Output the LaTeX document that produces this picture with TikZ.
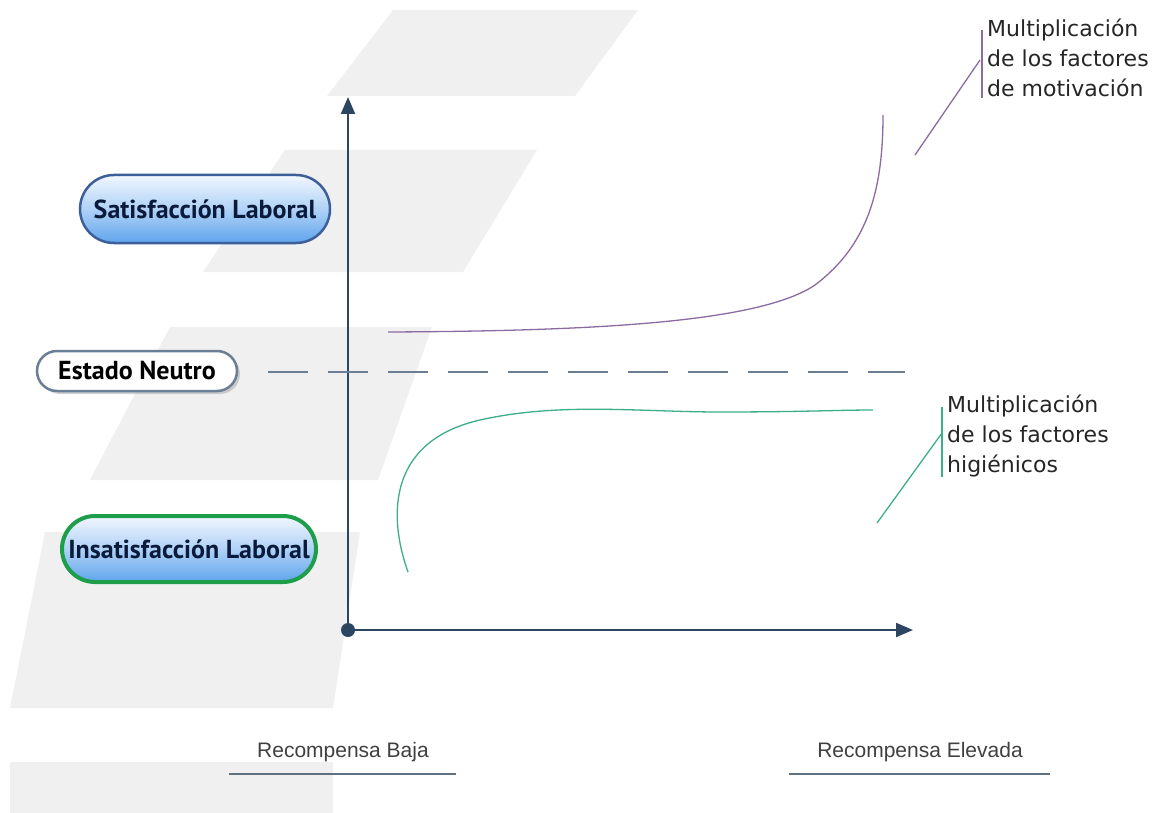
\documentclass[tikz,border=0pt]{standalone}
\usepackage{fontspec}
\setmainfont{DejaVu Sans}
\newfontfamily\pillfont{PT Sans}
\newfontfamily\labfont{DejaVu Sans}
\newfontfamily\axfont{Liberation Sans}
\usetikzlibrary{arrows.meta,shadows,shapes.misc}
\definecolor{stripe}{HTML}{F0F0F0}
\definecolor{axiscol}{HTML}{2C4662}
\definecolor{dashcol}{HTML}{6A7F95}
\definecolor{pillborder}{HTML}{3D5F99}
\definecolor{pilltop}{HTML}{F2F7FF}
\definecolor{pillbot}{HTML}{5FA4EC}
\definecolor{greenb}{HTML}{1E9E4A}
\definecolor{pilltext}{HTML}{0A1A3A}
\definecolor{purplec}{HTML}{8C6BA3}
\definecolor{greenc}{HTML}{3DAE8A}
\definecolor{ulcol}{HTML}{5F7080}
\tikzset{
  bgstripe/.style={fill=stripe, draw=none},
  pill/.style={rounded rectangle, minimum height=68pt, inner xsep=8pt, draw=pillborder, line width=2.5pt,
    top color=pilltop, bottom color=pillbot, middle color=pilltop!55!pillbot, text=pilltext,
    font=\pillfont\bfseries\fontsize{26}{30}\selectfont},
  neutral/.style={rounded rectangle, minimum height=40pt, minimum width=212pt, inner xsep=6pt, draw=dashcol, line width=2.5pt, fill=white,
    text=black, font=\pillfont\bfseries\fontsize{26}{30}\selectfont,
    drop shadow={shadow xshift=3pt, shadow yshift=-3pt, fill=black!35}},
  axisline/.style={draw=axiscol, line width=2pt},
  sidelabel/.style={anchor=north west, align=left, inner xsep=5pt, inner ysep=0pt,
    font=\labfont\fontsize{22}{30}\selectfont, text=black!85},
  botlabel/.style={font=\axfont\fontsize{21}{24}\selectfont, text=black!75},
  uline/.style={draw=ulcol, line width=2pt},
}
\begin{document}
\begin{tikzpicture}[x=1pt,y=-1pt]
\useasboundingbox (0,0) rectangle (1153,813);
\fill[white] (0,0) rectangle (1153,813);
% background stripes
\path[bgstripe] (393,10) -- (638,10) -- (575,96) -- (327,96) -- cycle;
\path[bgstripe] (285,150) -- (537,150) -- (463,272) -- (203,272) -- cycle;
\path[bgstripe] (170,327) -- (432,327) -- (378,480) -- (90,480) -- cycle;
\path[bgstripe] (45,532) -- (360,532) -- (333,708) -- (10,708) -- cycle;
\path[bgstripe] (10,762) -- (333,762) -- (333,813) -- (10,813) -- cycle;

% axes
\coordinate (origin) at (348,630);
\coordinate (ytop) at (348,97);
\coordinate (xend) at (913,630);
\draw[axisline, -{Triangle[length=17pt,width=14pt]}] (origin) -- (ytop);
\draw[axisline, -{Triangle[length=17pt,width=14pt]}] (origin) -- (xend);
\fill[axiscol] (origin) circle (7pt);

% dashed neutral line
\coordinate (dashA) at (268,372);
\coordinate (dashB) at (905,372);
\draw[dashcol, line width=1.5pt, dash pattern=on 40pt off 20pt] (dashA) -- (dashB);

% pills
\node[pill, minimum width=266pt] (sat) at (205,209) {Satisfacción Laboral};
\node[neutral] (neu) at (137,371) {Estado Neutro};
\node[pill, draw=greenb, line width=4pt, minimum width=270pt, minimum height=66pt] (insat) at (189,549) {Insatisfacción Laboral};

% curves
\coordinate (pS) at (388,332);
\coordinate (pM) at (815,285);
\coordinate (pE) at (883,115);
\draw[purplec, line width=1.3pt] (pS) .. controls (600,331) and (760,322) .. (pM) .. controls (868,245) and (883,190) .. (pE);
\coordinate (gS) at (408,572);
\coordinate (gM) at (480,420);
\coordinate (gN) at (720,412);
\coordinate (gE) at (873,410);
\draw[greenc, line width=1.3pt] (gS) .. controls (386,510) and (392,440) .. (gM) .. controls (560,402) and (640,412) .. (gN) .. controls (800,412) and (840,410) .. (gE);

% side labels
\node[sidelabel] (motiv) at (982,19) {Multiplicación\\de los factores\\de motivación};
\draw[purplec, line width=1.3pt] ([yshift=-11pt]motiv.north west) -- ([yshift=-1pt]motiv.south west);
\coordinate (motivLead) at (915,155);
\draw[purplec, line width=1.3pt] (motivLead) -- (980,60);

\node[sidelabel] (hig) at (942,395) {Multiplicación\\de los factores\\higiénicos};
\draw[greenc, line width=1.3pt] ([yshift=-12pt]hig.north west) -- ([yshift=1pt]hig.south west);
\coordinate (higLead) at (877,523);
\draw[greenc, line width=1.3pt] (higLead) -- (942,433);

% bottom labels
\node[botlabel] (baja) at (343,752) {Recompensa Baja};
\coordinate (bajaL) at (229,774);
\coordinate (bajaR) at (456,774);
\draw[uline] (bajaL) -- (bajaR);
\node[botlabel] (elev) at (920,752) {Recompensa Elevada};
\coordinate (elevL) at (789,774);
\coordinate (elevR) at (1050,774);
\draw[uline] (elevL) -- (elevR);
\end{tikzpicture}
\end{document}
